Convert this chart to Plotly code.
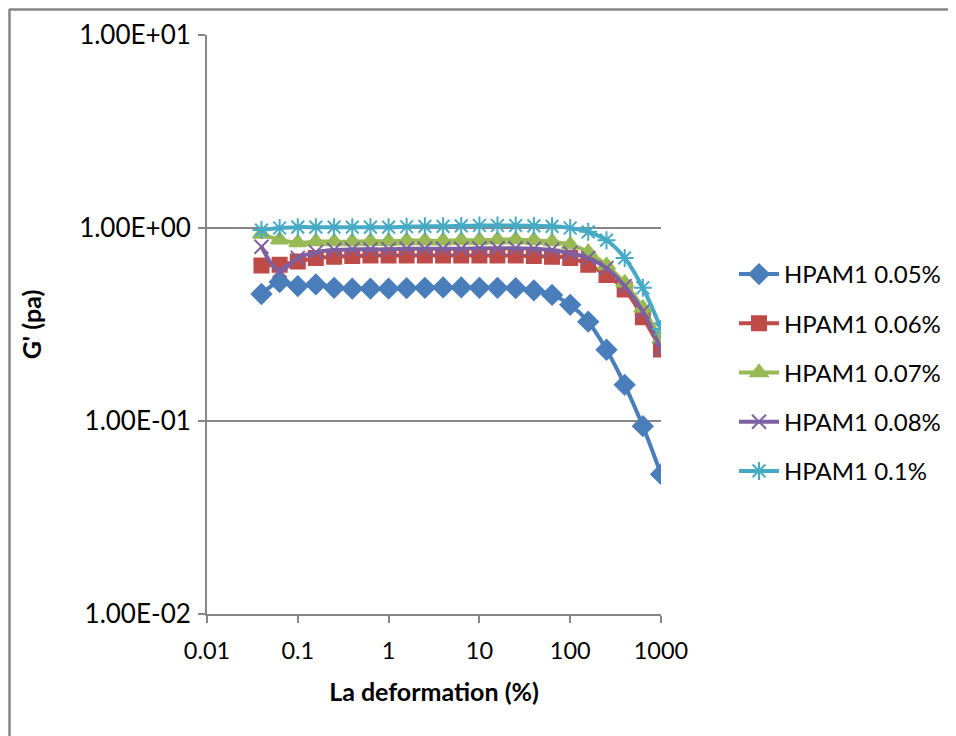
import plotly.graph_objects as go

strain = [0.0398, 0.0631, 0.1, 0.158, 0.251, 0.398, 0.631, 1, 1.58, 2.51, 3.98, 6.31,
          10, 15.8, 25.1, 39.8, 63.1, 100, 158, 251, 398, 631, 1000]

g_005 = [0.455, 0.525, 0.50, 0.51, 0.49, 0.485, 0.485, 0.485, 0.488, 0.49, 0.492, 0.492,
         0.49, 0.49, 0.488, 0.475, 0.45, 0.40, 0.327, 0.234, 0.154, 0.094, 0.053]
g_006 = [0.64, 0.645, 0.67, 0.70, 0.71, 0.715, 0.72, 0.72, 0.72, 0.72, 0.72, 0.72,
         0.72, 0.72, 0.72, 0.715, 0.71, 0.70, 0.645, 0.57, 0.48, 0.345, 0.235]
g_007 = [0.93, 0.87, 0.84, 0.85, 0.85, 0.85, 0.855, 0.855, 0.86, 0.86, 0.86, 0.865,
         0.865, 0.87, 0.87, 0.865, 0.85, 0.82, 0.75, 0.64, 0.52, 0.385, 0.265]
g_008 = [0.80, 0.60, 0.70, 0.75, 0.77, 0.775, 0.775, 0.775, 0.78, 0.78, 0.78, 0.78,
         0.785, 0.785, 0.785, 0.78, 0.77, 0.74, 0.70, 0.62, 0.50, 0.37, 0.235]
g_010 = [0.975, 1.0, 1.01, 1.01, 1.01, 1.01, 1.01, 1.01, 1.015, 1.02, 1.02, 1.025,
         1.03, 1.03, 1.03, 1.025, 1.02, 1.0, 0.955, 0.865, 0.70, 0.49, 0.30]

names = ["HPAM1 0.05%", "HPAM1 0.06%", "HPAM1 0.07%", "HPAM1 0.08%", "HPAM1 0.1%"]
colors = ["#4A7EBB", "#BE4B48", "#98B954", "#7D60A0", "#46AAC5"]
symbols = ["diamond", "square", "triangle-up", "x-thin-open", "asterisk-open"]
sizes = [15, 14, 15, 14, 15]
series = [g_005, g_006, g_007, g_008, g_010]

y_tickvals = [0.01, 0.1, 1, 10]
y_ticktext = ["1.00E-02", "1.00E-01", "1.00E+00", "1.00E+01"]
x_tickvals = [0.01, 0.1, 1, 10, 100, 1000]
x_ticktext = ["0.01", "0.1", "1", "10", "100", "1000"]

FONT = "Lato"

# page is offset by the 8px body margin; plot area targets screen px 207..661 x 35..614
OFF = 8
W, H = 948, 728
PL, PR, PT, PB = 207, 661, 35, 614


def px_x(sx):
    return (sx - PL) / (PR - PL)


def px_y(sy):
    return (PB - sy) / (PB - PT)


fig = go.Figure()
for i, (nm, c, s, sz, ys) in enumerate(zip(names, colors, symbols, sizes, series)):
    fig.add_trace(go.Scatter(
        x=strain, y=ys, name=nm, mode="lines+markers",
        legendgroup=str(i),
        line=dict(color=c, width=4, shape="spline", smoothing=1.0),
        marker=dict(symbol=s, size=sz, color=c, line=dict(color=c, width=2)),
    ))

frame = dict(color="#868686", width=2.5)
fig.update_layout(
    width=W, height=H,
    paper_bgcolor="white", plot_bgcolor="white",
    margin=dict(l=PL - OFF, r=W + OFF - PR, t=PT - OFF, b=H + OFF - PB, autoexpand=False),
    font=dict(family=FONT, size=23, color="black"),
    showlegend=True,
    legend=dict(
        x=px_x(734), y=px_y(252), xanchor="left", yanchor="top",
        font=dict(family=FONT, size=24, color="black"),
        tracegroupgap=15, traceorder="grouped",
        bgcolor="rgba(0,0,0,0)", itemwidth=40,
    ),
    xaxis=dict(
        type="log", range=[-2, 3],
        tickvals=x_tickvals, ticktext=x_ticktext,
        showgrid=False, zeroline=False,
        showline=True, linecolor="#868686", linewidth=2,
        ticks="outside", ticklen=7, tickcolor="#868686", tickwidth=2,
        ticklabelstandoff=8,
        tickfont=dict(family=FONT, size=23.5),
        title=dict(text="<b>La deformation (%)</b>", font=dict(family=FONT, size=25), standoff=20),
    ),
    yaxis=dict(
        type="log", range=[-2, 1],
        tickvals=y_tickvals, ticktext=y_ticktext,
        showgrid=True, gridcolor="#868686", gridwidth=1.5,
        zeroline=False,
        showline=True, linecolor="#868686", linewidth=2,
        ticks="outside", ticklen=7, tickcolor="#868686", tickwidth=2,
        ticklabelstandoff=2,
        tickfont=dict(family=FONT, size=26),
        title=dict(text="<b>G' (pa)</b>", font=dict(family=FONT, size=25), standoff=30),
    ),
    shapes=[
        dict(type="line", xref="paper", yref="paper",
             x0=px_x(9), x1=px_x(W + OFF), y0=px_y(9.5), y1=px_y(9.5), line=frame, layer="below"),
        dict(type="line", xref="paper", yref="paper",
             x0=px_x(9.5), x1=px_x(9.5), y0=px_y(9), y1=px_y(H + OFF), line=frame, layer="below"),
    ],
)

fig.write_html("out.html")
